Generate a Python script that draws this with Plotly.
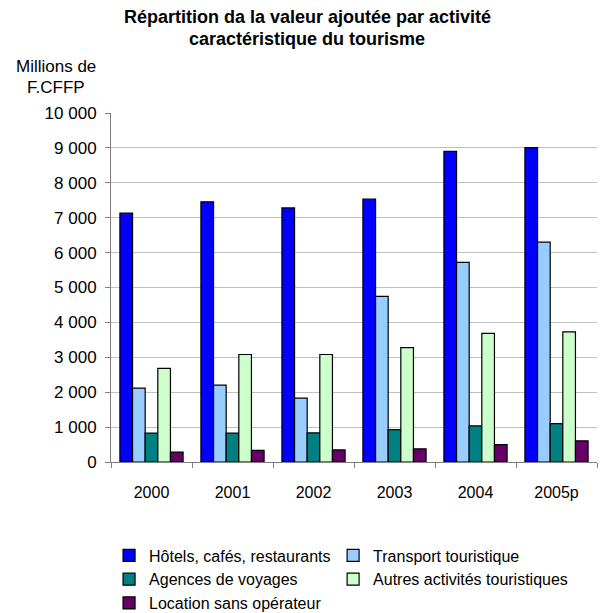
import plotly.graph_objects as go

years = ["2000", "2001", "2002", "2003", "2004", "2005p"]
hotels = [7130, 7455, 7280, 7530, 8900, 9010]
transport = [2115, 2200, 1830, 4745, 5720, 6300]
agences = [825, 825, 835, 930, 1035, 1100]
autres = [2680, 3080, 3080, 3280, 3685, 3730]
location = [285, 335, 345, 375, 500, 605]

# (name, values, colour, legend column)
series = [
    ("Hôtels, cafés, restaurants", hotels, "#0000FF", "legend"),
    ("Transport touristique", transport, "#99CCFF", "legend2"),
    ("Agences de voyages", agences, "#008080", "legend"),
    ("Autres activités touristiques", autres, "#CCFFCC", "legend2"),
    ("Location sans opérateur", location, "#660066", "legend"),
]

FONT = "Liberation Sans, Arial, sans-serif"

fig = go.Figure()
for name, vals, col, leg in series:
    fig.add_trace(go.Bar(
        x=years, y=vals, name=name, legend=leg,
        marker=dict(color=col, line=dict(color="#000000", width=1.2)),
    ))

leg_common = dict(
    orientation="v", xanchor="left", yanchor="top",
    itemwidth=30, font=dict(family=FONT, size=16),
    traceorder="normal", bgcolor="rgba(0,0,0,0)",
)

fig.update_layout(
    width=598, height=605,
    margin=dict(l=103, r=9, t=105, b=151, autoexpand=False),
    paper_bgcolor="white", plot_bgcolor="white",
    font=dict(family=FONT, size=16, color="#000000"),
    barmode="group", bargap=0.22, bargroupgap=0,
    separators=", ",
    showlegend=True,
    legend=dict(x=-0.004, y=-0.219, **leg_common),
    legend2=dict(x=0.457, y=-0.219, **leg_common),
)

fig.update_xaxes(
    showline=True, linecolor="#808080", linewidth=1,
    ticks="outside", tickson="boundaries", ticklen=5, tickcolor="#808080",
    showgrid=False, ticklabelstandoff=16,
    tickfont=dict(family=FONT, size=16),
)
fig.update_yaxes(
    range=[0, 10000], dtick=1000, tickformat=",d",
    showline=True, linecolor="#808080", linewidth=1,
    ticks="outside", ticklen=5, tickcolor="#808080",
    showgrid=True, gridcolor="#C0C0C0", gridwidth=1,
    zeroline=False, ticklabelstandoff=5,
    tickfont=dict(family=FONT, size=17),
)

title_lines = ["Répartition da la valeur ajoutée par activité",
               "caractéristique du tourisme"]
for i, t in enumerate(title_lines):
    fig.add_annotation(
        text="<b>" + t + "</b>", xref="paper", yref="paper",
        x=(307 - 111) / 486, y=1 + (113 - (17 + 22 * i)) / 349,
        showarrow=False, xanchor="center", yanchor="middle",
        font=dict(family=FONT, size=18),
    )

ylabel_lines = ["Millions de", "F.CFFP"]
for i, t in enumerate(ylabel_lines):
    fig.add_annotation(
        text=t, xref="paper", yref="paper",
        x=(56 - 111) / 486, y=1 + (113 - (66 + 22 * i)) / 349,
        showarrow=False, xanchor="center", yanchor="middle",
        font=dict(family=FONT, size=17),
    )

fig.write_html("out.html")
